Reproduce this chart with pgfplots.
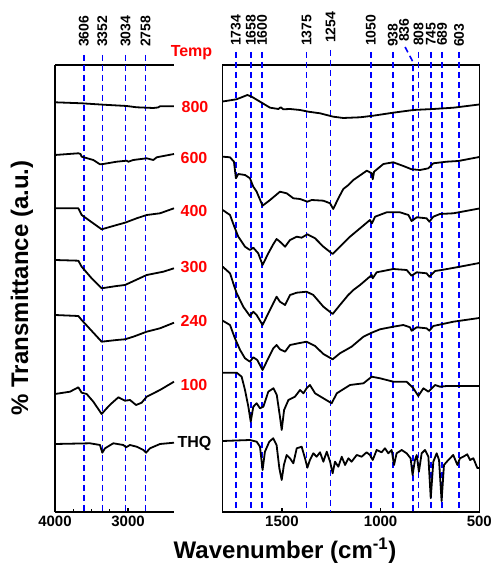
\documentclass[border=0pt]{standalone}
\usepackage{fontspec}
\setmainfont{Liberation Sans}
\usepackage{pgfplots}
\pgfplotsset{compat=1.18}
\definecolor{lblue}{RGB}{0,0,255}
\tikzset{vline/.style={lblue, line width=1.6pt, dash pattern=on 6pt off 4pt},
  peak/.style={rotate=90, anchor=west, inner sep=0pt, font=\fontsize{14}{14}\selectfont\bfseries}}
\pgfplotsset{
  ftir/.style={
    scale only axis,
    height=447pt,
    ymin=-512, ymax=-65,
    ytick=\empty,
    x dir=reverse,
    clip=false,
    axis line style={line width=1.5pt, -},
    tick style={line width=1.2pt, black},
    major tick length=4pt,
    minor tick length=3pt,
    tick align=inside,
    xtick pos=bottom,
    ticklabel style={font=\fontsize{15}{17}\selectfont\bfseries},
    /pgf/number format/assume math mode=true,
    /pgf/number format/1000 sep={},
  },
  spec/.style={black, line width=1.8pt, line join=round, no marks},
}
\begin{document}
\begin{tikzpicture}[font=\bfseries]
\path[use as bounding box] (0pt,0pt) rectangle (495pt,564pt);

% left panel, 4000 - 2370
\begin{axis}[ftir, at={(55pt,52pt)}, anchor=south west, width=119pt,
  xmin=2370, xmax=4000, xtick={4000,3000}, minor x tick num=3,
  axis x line*=box, axis y line*=left]
\pgfplotsinvokeforeach{3606,3352,3034,2758}{
  \draw[vline] (axis cs:#1,-55) -- (axis cs:#1,-512);
  \node[peak] at (axis cs:#1,-47) {#1};
}
\addplot[spec] coordinates {(4000,-102.3) (3635,-103.3) (3338,-104.7) (3018,-106) (2881,-107.3) (2653,-108) (2590,-107.5) (2562,-106.3) (2370,-106.3)};
\addplot[spec] coordinates {(4000,-155) (3680,-153.3) (3650,-154) (3635,-156.7) (3475,-160) (3384,-164.3) (3338,-164) (3155,-161.7) (3018,-160.7) (2995,-161.7) (2927,-160) (2744,-158.3) (2653,-160) (2607,-157.3) (2370,-154)};
\addplot[spec] coordinates {(4000,-208.3) (3680,-208.3) (3635,-215) (3361,-229.3) (3155,-225) (3041,-222.7) (2881,-218.3) (2744,-215) (2562,-213.3) (2370,-208.3)};
\addplot[spec] coordinates {(4000,-260) (3680,-260.7) (3635,-266.7) (3498,-278.3) (3361,-288.3) (3155,-286) (3041,-285) (2973,-282.7) (2744,-275) (2516,-271.7) (2370,-268.3)};
\addplot[spec] coordinates {(4000,-315) (3680,-316) (3635,-320) (3361,-341.7) (3155,-340) (3041,-339.3) (2927,-336.7) (2744,-331.7) (2562,-328.3) (2370,-322.7)};
\addplot[spec] coordinates {(4000,-394) (3795,-391.7) (3680,-387.3) (3635,-392.7) (3566,-394) (3475,-401.7) (3361,-414) (3292,-408.3) (3224,-403.3) (3132,-397.3) (3041,-400.7) (2973,-400) (2890,-405) (2813,-402.7) (2744,-396.7) (2562,-390) (2370,-381.7)};
\addplot[spec] coordinates {(4000,-444) (3520,-443.3) (3384,-445) (3352,-452.7) (3315,-448.3) (3201,-443.3) (3064,-445) (3027,-447.3) (2973,-445) (2881,-446.7) (2790,-450) (2753,-452.7) (2699,-448.3) (2562,-444) (2370,-442.7)};
\end{axis}

% right panel, 1800 - 500
\begin{axis}[ftir, at={(222.7pt,52pt)}, anchor=south west, width=256.6pt,
  xmin=500, xmax=1800, xtick={1500,1000,500}]
\pgfplotsinvokeforeach{1734,1658,1600,1375,1050,808,745,689}{
  \draw[vline] (axis cs:#1,-52) -- (axis cs:#1,-512);
  \node[peak] at (axis cs:#1,-46) {#1};
}
\pgfplotsinvokeforeach{938,603}{
  \draw[vline] (axis cs:#1,-52) -- (axis cs:#1,-512);
  \node[peak] at (axis cs:#1,-47) {#1};
}
\draw[vline] (axis cs:1254,-50) -- (axis cs:1254,-512);
\node[peak] at (axis cs:1254,-43) {1254};
\draw[vline] (axis cs:876,-47) -- (axis cs:836,-62) -- (axis cs:836,-512);
\node[peak] at (axis cs:881,-42) {836};

\addplot[spec] coordinates {(1800,-101.5) (1730,-99.3) (1704,-97.3) (1675,-95) (1653,-96.7) (1611,-101.7) (1560,-107.7) (1518,-109) (1506,-107.3) (1493,-109.3) (1459,-109) (1408,-110) (1366,-111.7) (1307,-113.3) (1240,-116.7) (1189,-118) (1104,-117.3) (1037,-115.7) (936,-112.7) (834,-110) (733,-109) (631,-107.7) (500,-104.5)};
\addplot[spec] coordinates {(1800,-156.7) (1763,-157.3) (1743,-161.7) (1733,-178.3) (1721,-174) (1687,-175) (1662,-178.3) (1645,-186.7) (1628,-191.7) (1598,-205.7) (1560,-200) (1510,-191.7) (1476,-193.3) (1442,-198.3) (1408,-199) (1371,-201.7) (1349,-200) (1290,-200.7) (1256,-203.3) (1240,-209) (1214,-198.3) (1189,-189) (1163,-185) (1138,-180) (1070,-170.7) (1045,-173.3) (1040,-179.3) (1033,-171.7) (986,-164) (936,-162.3) (885,-166) (843,-169.3) (800,-170) (758,-168.3) (733,-163.3) (665,-161.7) (606,-161) (500,-157)};
\addplot[spec] coordinates {(1800,-210) (1763,-215) (1738,-228.3) (1721,-236.7) (1687,-246.7) (1662,-250) (1645,-247.7) (1620,-253.3) (1598,-265) (1569,-253.3) (1544,-244.3) (1527,-239) (1510,-241.7) (1484,-246.7) (1459,-240) (1425,-236.7) (1400,-237.7) (1371,-234.3) (1332,-238.3) (1290,-246.7) (1243,-254) (1206,-246.7) (1155,-236.7) (1104,-228.3) (1054,-220) (1044,-223.3) (1028,-216.7) (969,-212.3) (902,-212.3) (859,-215) (843,-221) (817,-217.3) (767,-218.3) (753,-221.7) (733,-216.7) (699,-214) (631,-213.3) (500,-208.5)};
\addplot[spec] coordinates {(1800,-266.7) (1763,-273.3) (1738,-288.3) (1729,-293.3) (1696,-306.7) (1662,-316) (1645,-311.7) (1628,-315) (1598,-325) (1569,-313.3) (1544,-303.3) (1527,-296.7) (1510,-301.7) (1484,-305) (1459,-295) (1425,-292.7) (1375,-291.7) (1341,-295) (1290,-306.7) (1243,-314) (1206,-305) (1164,-295) (1138,-290) (1104,-285) (1045,-275) (1040,-278.3) (1020,-272.3) (936,-269) (868,-270) (843,-275.7) (817,-272.3) (767,-273.3) (753,-276.7) (724,-271) (691,-270) (598,-266.7) (500,-263)};
\addplot[spec] coordinates {(1800,-320.7) (1763,-325) (1738,-338.3) (1712,-350) (1687,-358.3) (1662,-361.7) (1645,-357.3) (1625,-360) (1598,-370) (1569,-358.3) (1544,-348.3) (1527,-345) (1510,-349.3) (1484,-351.7) (1459,-345) (1417,-343.3) (1375,-341.7) (1332,-346) (1290,-354) (1243,-359.3) (1206,-353.3) (1147,-346.7) (1087,-336.7) (1045,-332.7) (1003,-329.3) (936,-326.7) (885,-325) (851,-327.3) (843,-330.7) (817,-327.3) (767,-328.3) (753,-330.7) (733,-326) (631,-321.7) (500,-318)};
\addplot[spec] coordinates {(1800,-372.7) (1729,-372.7) (1704,-376.7) (1687,-390) (1670,-406.7) (1658,-421.7) (1645,-406.7) (1628,-403.3) (1611,-408.3) (1594,-406.7) (1569,-391.7) (1543,-388.3) (1526,-395) (1510,-416.7) (1501,-430) (1489,-410) (1467,-400) (1434,-396.7) (1408,-390) (1391,-393.3) (1375,-388.3) (1358,-385) (1332,-393.3) (1290,-398.3) (1248,-403.3) (1222,-393.3) (1155,-385) (1087,-383.3) (1045,-376.7) (1003,-378.3) (935,-381.7) (868,-381.7) (834,-388.3) (809,-396) (783,-388.3) (758,-391.7) (724,-385) (699,-386.7) (665,-386) (500,-386)};
\addplot[spec] coordinates {(1800,-441) (1662,-440) (1628,-441.7) (1611,-446.7) (1598,-470) (1586,-451.7) (1564,-441.7) (1544,-438.3) (1527,-445) (1513,-468.3) (1501,-480) (1490,-465) (1476,-455) (1459,-458.3) (1442,-463.3) (1425,-448.3) (1400,-446.7) (1383,-458.3) (1371,-467.7) (1358,-460) (1341,-453.3) (1324,-456.7) (1307,-452.3) (1290,-461.7) (1273,-451.7) (1256,-461.7) (1243,-473.3) (1231,-461.7) (1214,-466.7) (1197,-456.7) (1180,-465) (1163,-458.3) (1147,-461.7) (1121,-455) (1096,-456.7) (1071,-452.3) (1054,-455) (1040,-460) (1020,-450) (995,-452.3) (978,-448.3) (961,-453.3) (944,-450) (932,-465) (919,-453.3) (893,-450) (868,-453.3) (848,-458.3) (838,-475) (826,-460) (817,-455) (806,-471.7) (792,-453.3) (775,-450) (758,-456.7) (746,-498.3) (733,-461.7) (716,-453.3) (704,-460) (691,-501) (679,-465) (657,-460) (632,-455) (611,-465) (598,-458.3) (581,-456.7) (561,-454.3) (547,-460) (530,-458.3) (510,-468) (500,-468)};
\end{axis}

% sample labels
\begin{scope}[font=\fontsize{16}{18}\selectfont\bfseries]
\node[red] at (191.5pt,511pt) {Temp};
\node[red] at (195pt,457pt) {800};
\node[red] at (194pt,406pt) {600};
\node[red] at (194pt,353pt) {400};
\node[red] at (194pt,297pt) {300};
\node[red] at (194pt,243pt) {240};
\node[red] at (194pt,179pt) {100};
\node[black] at (194.5pt,121pt) {THQ};
\end{scope}

% axis titles
\node[rotate=90, font=\fontsize{24}{26}\selectfont\bfseries] at (22pt,276pt) {\% Transmittance (a.u.)};
\node[font=\fontsize{24}{26}\selectfont\bfseries] at (285pt,13pt) {Wavenumber (cm\textsuperscript{-1})};
\end{tikzpicture}
\end{document}
